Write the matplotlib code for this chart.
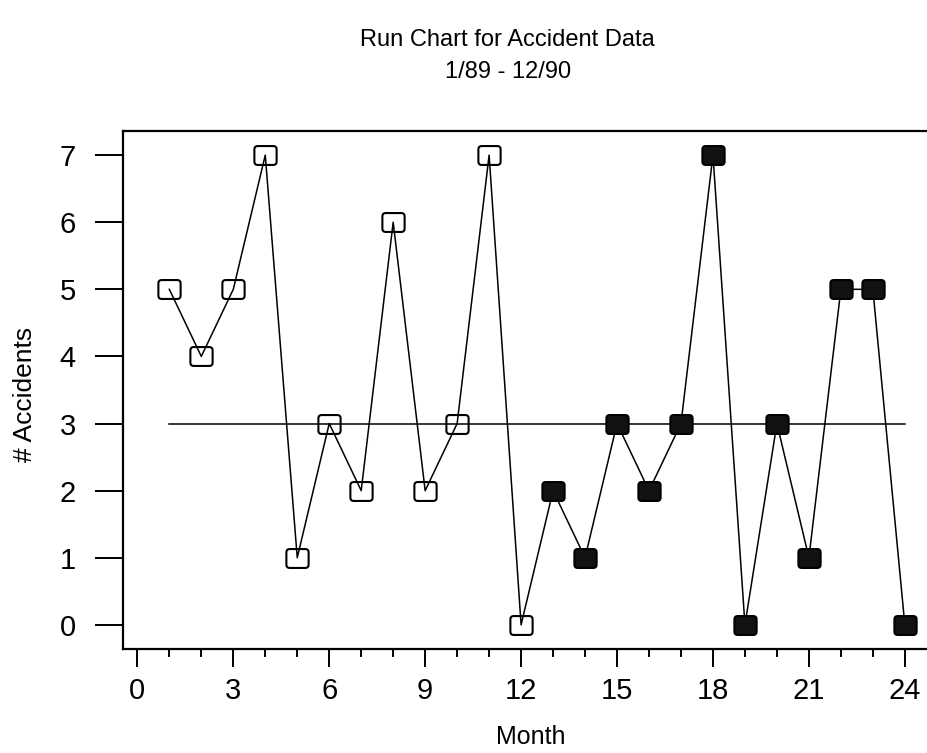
import matplotlib
matplotlib.use('Agg')
import matplotlib.pyplot as plt
from matplotlib.path import Path
from matplotlib.ticker import MultipleLocator

plt.rcParams['font.family'] = ['Liberation Sans', 'DejaVu Sans']

## DATA
months = list(range(1, 25))
accidents = [5, 4, 5, 7, 1, 3, 2, 6, 2, 3, 7, 0,
             2, 1, 3, 2, 3, 7, 0, 3, 1, 5, 5, 0]
median_value = 3
split_month = 12   # open markers up to here, filled after
x_ticks = [0, 3, 6, 9, 12, 15, 18, 21, 24]
y_ticks = [0, 1, 2, 3, 4, 5, 6, 7]

## Rounded square marker
def rounded_square(w=1.0, h=0.85, r=0.3):
    verts = [(-w + r, -h), (w - r, -h), (w, -h), (w, -h + r),
             (w, h - r), (w, h), (w - r, h),
             (-w + r, h), (-w, h), (-w, h - r),
             (-w, -h + r), (-w, -h), (-w + r, -h), (-w + r, -h)]
    codes = [Path.MOVETO, Path.LINETO, Path.CURVE3, Path.CURVE3,
             Path.LINETO, Path.CURVE3, Path.CURVE3,
             Path.LINETO, Path.CURVE3, Path.CURVE3,
             Path.LINETO, Path.CURVE3, Path.CURVE3, Path.CLOSEPOLY]
    return Path(verts, codes)

marker = rounded_square()

fig = plt.figure(figsize=(9.28, 7.53), dpi=100)
ax = fig.add_axes((0.1325, 0.1381, 0.877, 0.688))

## Data line
ax.plot(months, accidents, color='black', linewidth=1.1, zorder=2)

## Median line
ax.plot([months[0], months[-1]], [median_value, median_value],
        color='black', linewidth=1.1, zorder=1)

## Markers: first year open, second year filled
first_x = months[:split_month]
first_y = accidents[:split_month]
second_x = months[split_month:]
second_y = accidents[split_month:]
ax.plot(first_x, first_y, linestyle='none', marker=marker, markersize=16,
        markerfacecolor='none', markeredgecolor='black', markeredgewidth=1.5, zorder=3)
ax.plot(second_x, second_y, linestyle='none', marker=marker, markersize=16,
        markerfacecolor='#121212', markeredgecolor='black', markeredgewidth=1.5, zorder=3)

ax.set_xlim(-0.45, 25.0)
ax.set_ylim(-0.36, 7.36)
ax.set_xticks(x_ticks)
ax.xaxis.set_minor_locator(MultipleLocator(1))
ax.set_yticks(y_ticks)

ax.spines['right'].set_visible(False)
for s in ['left', 'top', 'bottom']:
    ax.spines[s].set_linewidth(1.6)

ax.tick_params(axis='x', which='major', length=13, width=1.4, labelsize=21, pad=7)
ax.tick_params(axis='x', which='minor', length=5.5, width=1.4)
ax.tick_params(axis='y', which='major', length=20, width=1.4, labelsize=21, pad=14)

ax.set_xlabel('Month', fontsize=18, va='center', ha='center')
ax.xaxis.set_label_coords(0.501, -0.170)
ax.set_ylabel('# Accidents', fontsize=19, va='center', ha='center')
ax.yaxis.set_label_coords(-0.120, 0.492)

fig.text(0.547, 1 - 40 / 753, 'Run Chart for Accident Data',
         ha='center', va='center', fontsize=17)
fig.text(0.547, 1 - 72 / 753, '1/89 - 12/90',
         ha='center', va='center', fontsize=17)

fig.savefig('out.png', dpi=100)
